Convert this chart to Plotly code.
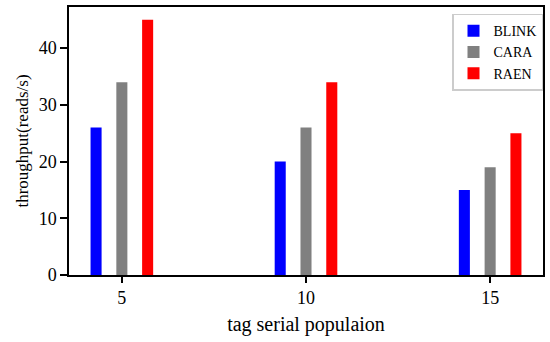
import plotly.graph_objects as go

populations = [5, 10, 15]
blink = [26, 20, 15]
cara = [34, 26, 19]
raen = [45, 34, 25]

series = [("BLINK", blink, "#0000ff", -0.85), ("CARA", cara, "#808080", -0.15), ("RAEN", raen, "#ff0000", 0.55)]

fig = go.Figure()
for name, vals, color, off in series:
    fig.add_trace(go.Bar(x=populations, y=vals, name=name, marker_color=color,
                         marker_line_width=0, width=0.3, offset=off))

font = "Liberation Serif"
fig.update_layout(
    width=550, height=342, barmode="overlay",
    margin=dict(l=69, r=6, t=5, b=67),
    paper_bgcolor="white", plot_bgcolor="white",
    font=dict(family=font, size=17, color="black"),
    legend=dict(x=1.0, xanchor="right", y=0.975, yanchor="top",
                bgcolor="white", bordercolor="#cccccc", borderwidth=1.5,
                font=dict(family=font, size=14), itemwidth=30, tracegroupgap=0),
    showlegend=True,
)
fig.update_xaxes(range=[3.565, 16.435], tickvals=populations, ticktext=[str(p) for p in populations],
                 tickfont=dict(family=font, size=18, color="black"),
                 showline=True, linecolor="black", linewidth=1.5, mirror=True,
                 ticks="outside", ticklen=6, tickwidth=1.5, tickcolor="black",
                 showgrid=False, zeroline=False,
                 title=dict(text="tag serial populaion", standoff=10, font=dict(family=font, size=20)))
fig.update_yaxes(range=[0, 47.25], tickvals=[0, 10, 20, 30, 40],
                 tickfont=dict(family=font, size=18, color="black"),
                 showline=True, linecolor="black", linewidth=1.5, mirror=True,
                 ticks="outside", ticklen=7, tickwidth=1.5, tickcolor="black",
                 showgrid=False, zeroline=False,
                 title=dict(text="throughput(reads/s)", standoff=6, font=dict(family=font, size=17)))
fig.write_html("out.html", config={"displayModeBar": False},
               post_script="document.body.style.margin='0';")
